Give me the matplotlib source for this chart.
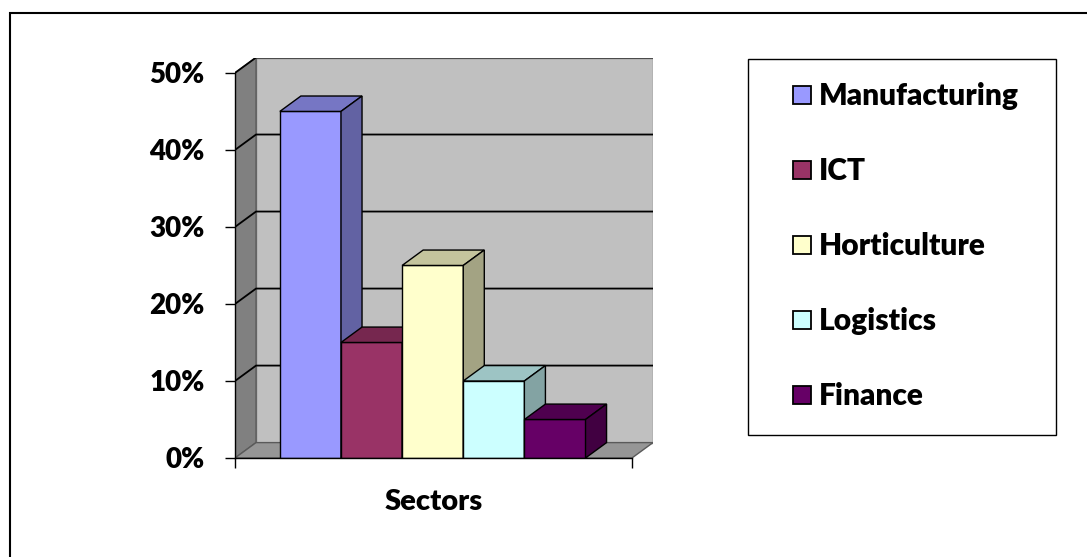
import matplotlib

matplotlib.use("Agg")
import matplotlib.pyplot as plt
from matplotlib.colors import to_rgb
from matplotlib.patches import Polygon, Rectangle
from matplotlib.ticker import PercentFormatter

SECTORS = ["Manufacturing", "ICT", "Horticulture", "Logistics", "Finance"]
SHARES = [0.45, 0.15, 0.25, 0.10, 0.05]
Y_TICKS = [0.0, 0.1, 0.2, 0.3, 0.4, 0.5]
CATEGORY = "Sectors"
FACE_COLORS = ["#9999FF", "#993366", "#FFFFCC", "#CCFFFF", "#660066"]

W, H, DPI = 1087, 557, 100

# fake 3d: receding offset in data units
DX = 0.053
DY = 0.020
BAR_W = 0.154
GAP = 0.113

plt.rcParams["font.family"] = ["Lato", "DejaVu Sans"]
plt.rcParams["font.weight"] = "heavy"


def shade(color, f):
    return tuple(c * f for c in to_rgb(color))


def fx(px):
    return px / W


def fy(py):
    return 1 - py / H


fig = plt.figure(figsize=(W / DPI, H / DPI), dpi=DPI)
fig.patch.set_facecolor("white")

ax = fig.add_axes([fx(235), fy(458), fx(653) - fx(235), fy(57.5) - fy(458)])
ymax = Y_TICKS[-1]
ax.set_xlim(0, 1 + DX)
ax.set_ylim(0, ymax + DY)
ax.patch.set_visible(False)

# walls and floor
ax.add_patch(Rectangle((DX, DY), 1, ymax, fc="#C0C0C0", ec="#808080", lw=1, zorder=0))
ax.add_patch(Polygon([(0, 0), (DX, DY), (DX, ymax + DY), (0, ymax)],
                     closed=True, fc="#808080", ec="#5a5a5a", lw=1, zorder=0))
ax.add_patch(Polygon([(0, 0), (1, 0), (1 + DX, DY), (DX, DY)],
                     closed=True, fc="#969696", ec="#5a5a5a", lw=1, zorder=0))
for v in Y_TICKS[1:]:
    ax.plot([0, DX, 1 + DX], [v, v + DY, v + DY], color="black", lw=1.3, zorder=1)

# columns, left to right so later ones cover earlier side faces
for i, (val, col) in enumerate(zip(SHARES, FACE_COLORS)):
    x = GAP + i * BAR_W
    z = 2 + i
    ax.bar(x, val, BAR_W, align="edge", color=col, edgecolor="black", lw=1, zorder=z)
    top = [(x, val), (x + BAR_W, val), (x + BAR_W + DX, val + DY), (x + DX, val + DY)]
    side = [(x + BAR_W, 0), (x + BAR_W + DX, DY), (x + BAR_W + DX, val + DY), (x + BAR_W, val)]
    ax.add_patch(Polygon(top, closed=True, fc=shade(col, 0.77), ec="black", lw=1, zorder=z))
    ax.add_patch(Polygon(side, closed=True, fc=shade(col, 0.64), ec="black", lw=1, zorder=z))

for s in ["top", "right"]:
    ax.spines[s].set_visible(False)
ax.spines["left"].set_bounds(0, ymax)
ax.spines["bottom"].set_bounds(0, 1)
for s in ["left", "bottom"]:
    ax.spines[s].set_linewidth(1)
    ax.spines[s].set_zorder(20)

ax.set_yticks(Y_TICKS)
ax.yaxis.set_major_formatter(PercentFormatter(1.0, decimals=0))
ax.tick_params(axis="y", length=7, width=1, pad=15, labelsize=20)
ax.set_xticks([0, 1], labels=["", ""])
ax.set_xticks([0.5], labels=[CATEGORY], minor=True)
ax.tick_params(axis="x", which="major", length=7, width=1)
ax.tick_params(axis="x", which="minor", length=0, pad=22, labelsize=21)

# legend box
fig.add_artist(Rectangle((fx(748), fy(435)), fx(1056) - fx(748), fy(59) - fy(435),
                         transform=fig.transFigure, fc="white", ec="black", lw=1))
for i, (name, col) in enumerate(zip(SECTORS, FACE_COLORS)):
    base = 105 + 75 * i
    fig.add_artist(Rectangle((fx(793), fy(base - 1)), fx(18), 18 / H,
                             transform=fig.transFigure, fc=col, ec="black", lw=1.3))
    fig.text(fx(819), fy(base), name, fontsize=21.5, fontweight="heavy", va="baseline")

# outer chart border
fig.add_artist(Rectangle((fx(10), -0.1), 1.2, fy(13) + 0.1,
                         transform=fig.transFigure, fill=False, ec="black", lw=1.5))

fig.savefig("out.png", dpi=DPI)
